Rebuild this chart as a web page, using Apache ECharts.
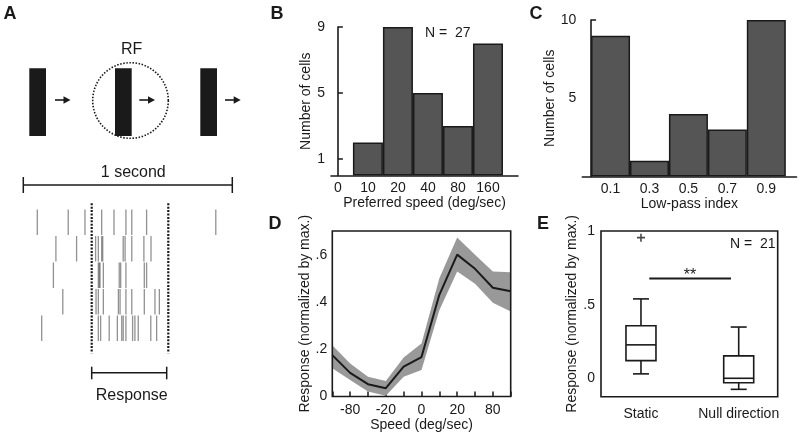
<!DOCTYPE html>
<html><head><meta charset="utf-8">
<script src="https://cdn.jsdelivr.net/npm/echarts@6/dist/echarts.min.js"></script>
<style>html,body{margin:0;padding:0;background:#fff}#c{width:800px;height:436px}</style>
</head><body><div id="c"></div>
<script>
const FONT = '"Liberation Sans", Arial, sans-serif';
const INK = '#1a1a1a';

// ---- Panel A: spike raster (ms from start of 1-second sweep), one array per trial
const rasterTrial1 = [67, 215, 295, 375, 434, 491, 519, 590, 921];
const rasterTrial2 = [156, 255, 346, 359, 375, 380, 478, 487, 519, 577, 611];
const rasterTrial3 = [144, 359, 364, 367, 383, 459, 466, 491, 579, 590];
const rasterTrial4 = [189, 348, 359, 383, 455, 463, 491, 519, 579, 630, 651];
const rasterTrial5 = [88, 359, 370, 411, 450, 471, 478, 491, 523, 534, 550, 610, 638];

// ---- Panel B: preferred speed histogram
const bCategories = ['0', '10', '20', '40', '80', '160'];
const bCounts = [0, 2, 9, 5, 3, 8];
const bYTicks = [1, 5, 9];

// ---- Panel C: low-pass index histogram
const cBins = [0.1, 0.3, 0.5, 0.7, 0.9];
const cCounts = [9, 1, 4, 3, 10];
const cYTicks = [5, 10];

// ---- Panel D: speed tuning (mean +/- band)
const dSpeeds = ['-160', '-80', '-40', '-20', '-10', '0', '10', '20', '40', '80', '160'];
const dLabeled = ['-80', '-20', '0', '20', '80'];
const dMean  = [0.175, 0.100, 0.052, 0.035, 0.126, 0.167, 0.430, 0.600, 0.540, 0.460, 0.445];
const dUpper = [0.217, 0.140, 0.084, 0.066, 0.165, 0.224, 0.500, 0.673, 0.600, 0.529, 0.526];
const dLower = [0.120, 0.070, 0.021, 0.003, 0.084, 0.112, 0.365, 0.529, 0.477, 0.396, 0.360];
const dYTicks = [0, 0.2, 0.4, 0.6];

// ---- Panel E: box plots
const eGroups = ['Static', 'Null direction'];
const eMin    = [0.030, -0.075];
const eQ1     = [0.120, -0.030];
const eMedian = [0.227, 0.000];
const eQ3     = [0.357, 0.152];
const eMax    = [0.539, 0.348];
const eOutlierGroup = [0];
const eOutlierValue = [0.955];
const eYTicks = [0, 0.5, 1];
const eSigFrom = 1.085, eSigTo = 1.921, eSigY = 0.677;

const fmtFrac = v => v === 0 ? '0' : (Number.isInteger(v) ? String(v) : String(v).replace(/^0/, ''));

const axisTxt = { color: INK, fontSize: 14, fontFamily: FONT };
const nameTxt = { color: INK, fontSize: 14, fontFamily: FONT };

const rasterTrials = [rasterTrial1, rasterTrial2, rasterTrial3, rasterTrial4, rasterTrial5];
const rasterData = [];
rasterTrials.forEach((arr, i) => arr.forEach(t => rasterData.push([t, i + 1])));

const chart = echarts.init(document.getElementById('c'), null, { renderer: 'canvas' });

function boxRender(params, api) {
  const x = api.value(0);
  const pLo = api.coord([x, api.value(1)]);
  const pQ1 = api.coord([x, api.value(2)]);
  const pMed = api.coord([x, api.value(3)]);
  const pQ3 = api.coord([x, api.value(4)]);
  const pHi = api.coord([x, api.value(5)]);
  const hw = 15, cw = 8;
  const st = { stroke: INK, lineWidth: 1.6, fill: null };
  return {
    type: 'group',
    children: [
      { type: 'rect', shape: { x: pQ3[0] - hw, y: pQ3[1], width: 2 * hw, height: pQ1[1] - pQ3[1] }, style: { stroke: INK, lineWidth: 1.6, fill: '#fff' } },
      { type: 'line', shape: { x1: pMed[0] - hw, y1: pMed[1], x2: pMed[0] + hw, y2: pMed[1] }, style: st },
      { type: 'line', shape: { x1: pQ3[0], y1: pQ3[1], x2: pHi[0], y2: pHi[1] }, style: st },
      { type: 'line', shape: { x1: pQ1[0], y1: pQ1[1], x2: pLo[0], y2: pLo[1] }, style: st },
      { type: 'line', shape: { x1: pHi[0] - cw, y1: pHi[1], x2: pHi[0] + cw, y2: pHi[1] }, style: st },
      { type: 'line', shape: { x1: pLo[0] - cw, y1: pLo[1], x2: pLo[0] + cw, y2: pLo[1] }, style: st }
    ]
  };
}

const letter = (t, x, y) => ({ type: 'text', x, y, style: { text: t, fontSize: 18, fontWeight: 'bold', fontFamily: FONT, fill: INK, align: 'center', verticalAlign: 'middle' } });
const label = (t, x, y, size) => ({ type: 'text', x, y, style: { text: t, fontSize: size || 16, fontFamily: FONT, fill: INK, align: 'center', verticalAlign: 'middle' } });
const seg = (x1, y1, x2, y2, w, dash) => ({ type: 'line', shape: { x1, y1, x2, y2 }, style: { stroke: INK, lineWidth: w || 1.5, lineDash: dash || null } });
const arrow = (x1, x2, y) => ({ type: 'group', children: [
  seg(x1, y, x2 - 5, y, 1.6),
  { type: 'polygon', shape: { points: [[x2 - 7, y - 3.8], [x2, y], [x2 - 7, y + 3.8]] }, style: { fill: INK } }
] });

const graphics = [
  letter('A', 10, 14), letter('B', 277, 14), letter('C', 536, 14), letter('D', 275, 224), letter('E', 543, 224),
  { type: 'circle', shape: { cx: 130.5, cy: 100.5, r: 37.8 }, style: { stroke: INK, lineWidth: 1.6, fill: null, lineDash: [1.5, 1.6] } },
  { type: 'rect', shape: { x: 29.3, y: 68.3, width: 16.7, height: 67.7 }, style: { fill: INK } },
  { type: 'rect', shape: { x: 115, y: 68.3, width: 16.7, height: 67.7 }, style: { fill: INK } },
  { type: 'rect', shape: { x: 200.3, y: 68.3, width: 16.7, height: 67.7 }, style: { fill: INK } },
  arrow(55, 70.5, 100), arrow(139.3, 155, 100), arrow(225, 240.7, 100),
  label('RF', 131.7, 50),
  seg(23.3, 185, 232.3, 185, 1.5), seg(23.3, 177, 23.3, 193, 1.5), seg(232.3, 177, 232.3, 193, 1.5),
  label('1 second', 133.3, 173),
  seg(91.7, 203.3, 91.7, 353.3, 2.2, [2, 1.4]), seg(168.3, 203.3, 168.3, 353.3, 2.2, [2, 1.4]),
  seg(91.7, 372.7, 166.7, 372.7, 1.5), seg(91.7, 366.7, 91.7, 379.3, 1.5), seg(166.7, 366.7, 166.7, 379.3, 1.5),
  label('Response', 131.7, 395.5),
  { type: 'text', x: 425, y: 33.5, style: { text: 'N =  27', fontSize: 14, fontFamily: FONT, fill: INK, align: 'left', verticalAlign: 'middle' } },
  { type: 'text', x: 730, y: 244.5, style: { text: 'N =  21', fontSize: 14, fontFamily: FONT, fill: INK, align: 'left', verticalAlign: 'middle' } },
  { type: 'text', x: 690, y: 276, style: { text: '**', fontSize: 16, fontFamily: FONT, fill: INK, align: 'center', verticalAlign: 'middle' } }
];

const option = {
  animation: false,
  backgroundColor: '#fff',
  textStyle: { fontFamily: FONT },
  graphic: graphics,
  grid: [
    { left: 23.3, top: 209, width: 209, height: 132.5 },
    { left: 331, top: 27, width: 187, height: 148.5 },
    { left: 582.3, top: 20, width: 214.2, height: 156.5 },
    { left: 332.3, top: 231, width: 178.4, height: 165.5, show: true, z: 10, borderColor: INK, borderWidth: 1.6, backgroundColor: 'transparent' },
    { left: 601, top: 231, width: 176.7, height: 165.7, show: true, z: 10, borderColor: INK, borderWidth: 1.6, backgroundColor: 'transparent' }
  ],
  xAxis: [
    { gridIndex: 0, type: 'value', min: 0, max: 1000, show: false },
    { gridIndex: 1, type: 'value', min: -0.23, max: 6,
      axisLine: { show: true, lineStyle: { color: INK, width: 1.6 } }, axisTick: { show: false }, splitLine: { show: false },
      axisLabel: { ...axisTxt, margin: 6, customValues: [0, 1, 2, 3, 4, 5], formatter: v => bCategories[Math.round(v)] },
      name: 'Preferred speed (deg/sec)', nameLocation: 'middle', nameGap: 19, nameTextStyle: nameTxt },
    { gridIndex: 2, type: 'value', min: -0.045, max: 1.055,
      axisLine: { show: true, lineStyle: { color: INK, width: 1.6 } }, axisTick: { show: false }, splitLine: { show: false },
      axisLabel: { ...axisTxt, margin: 6, customValues: cBins, formatter: v => v.toFixed(1) },
      name: 'Low-pass index', nameLocation: 'middle', nameGap: 19, nameTextStyle: nameTxt },
    { gridIndex: 3, type: 'category', data: dSpeeds, boundaryGap: false,
      axisLine: { show: false }, splitLine: { show: false },
      axisTick: { show: true, inside: true, length: 5, interval: 0, lineStyle: { color: INK, width: 1.5 } },
      axisLabel: { ...axisTxt, margin: 7, interval: (i, v) => dLabeled.includes(v) },
      name: 'Speed (deg/sec)', nameLocation: 'middle', nameGap: 21, nameTextStyle: nameTxt },
    { gridIndex: 4, type: 'value', min: 0.591, max: 2.399,
      axisLine: { show: false }, axisTick: { show: false }, splitLine: { show: false },
      axisLabel: { ...axisTxt, margin: 10, customValues: [1, 2], formatter: v => eGroups[Math.round(v) - 1] } }
  ],
  yAxis: [
    { gridIndex: 0, type: 'value', min: 0.5, max: 5.5, inverse: true, show: false },
    { gridIndex: 1, type: 'value', min: 0, max: 9,
      axisLine: { show: true, lineStyle: { color: INK, width: 1.6 } }, splitLine: { show: false },
      axisTick: { show: true, inside: true, length: 5, customValues: bYTicks, lineStyle: { color: INK, width: 1.5 } },
      axisLabel: { ...axisTxt, margin: 6, customValues: bYTicks },
      name: 'Number of cells', nameLocation: 'middle', nameGap: 17, nameTextStyle: nameTxt },
    { gridIndex: 2, type: 'value', min: 0, max: 10,
      axisLine: { show: true, lineStyle: { color: INK, width: 1.6 } }, splitLine: { show: false },
      axisTick: { show: true, inside: true, length: 5, customValues: cYTicks, lineStyle: { color: INK, width: 1.5 } },
      axisLabel: { ...axisTxt, margin: 6, customValues: cYTicks },
      name: 'Number of cells', nameLocation: 'middle', nameGap: 19, nameTextStyle: nameTxt },
    { gridIndex: 3, type: 'value', min: 0, max: 0.7,
      axisLine: { show: false }, splitLine: { show: false }, axisTick: { show: false },
      axisLabel: { ...axisTxt, margin: 5, customValues: dYTicks, formatter: fmtFrac },
      name: 'Response (normalized by max.)', nameLocation: 'middle', nameGap: 18, nameTextStyle: nameTxt },
    { gridIndex: 4, type: 'value', min: -0.125, max: 1,
      axisLine: { show: false }, splitLine: { show: false }, axisTick: { show: false },
      axisLabel: { ...axisTxt, margin: 6, customValues: eYTicks, formatter: fmtFrac },
      name: 'Response (normalized by max.)', nameLocation: 'middle', nameGap: 19, nameTextStyle: nameTxt }
  ],
  series: [
    { type: 'scatter', xAxisIndex: 0, yAxisIndex: 0, data: rasterData, symbol: 'rect', symbolSize: [1.3, 25.5],
      itemStyle: { color: 'rgba(85,85,85,0.8)' } },
    { type: 'bar', xAxisIndex: 1, yAxisIndex: 1, barWidth: 30,
      data: bCounts.map((c, i) => [i, c > 0 ? c : null]),
      itemStyle: { color: '#555555', borderColor: INK, borderWidth: 1.5 } },
    { type: 'bar', xAxisIndex: 2, yAxisIndex: 2, barWidth: 39,
      data: cBins.map((b, i) => [b, cCounts[i]]),
      itemStyle: { color: '#555555', borderColor: INK, borderWidth: 1.5 } },
    { type: 'line', xAxisIndex: 3, yAxisIndex: 3, stack: 'band', data: dLower, symbol: 'none',
      lineStyle: { opacity: 0 } },
    { type: 'line', xAxisIndex: 3, yAxisIndex: 3, stack: 'band', data: dUpper.map((u, i) => +(u - dLower[i]).toFixed(4)), symbol: 'none',
      lineStyle: { opacity: 0 }, areaStyle: { color: '#999999', opacity: 1 } },
    { type: 'line', xAxisIndex: 3, yAxisIndex: 3, data: dMean, symbol: 'none', z: 5,
      lineStyle: { color: INK, width: 2 } },
    { type: 'custom', xAxisIndex: 4, yAxisIndex: 4, renderItem: boxRender,
      encode: { x: 0, y: [1, 2, 3, 4, 5] },
      data: eGroups.map((g, i) => [i + 1, eMin[i], eQ1[i], eMedian[i], eQ3[i], eMax[i]]) },
    { type: 'scatter', xAxisIndex: 4, yAxisIndex: 4, symbol: 'path://M-0.6,-3H0.6V-0.6H3V0.6H0.6V3H-0.6V0.6H-3V-0.6H-0.6Z', symbolSize: 8,
      itemStyle: { color: INK }, data: eOutlierGroup.map((g, i) => [g + 1, eOutlierValue[i]]) },
    { type: 'line', xAxisIndex: 4, yAxisIndex: 4, symbol: 'none', lineStyle: { color: INK, width: 2 },
      data: [[eSigFrom, eSigY], [eSigTo, eSigY]] }
  ]
};
chart.setOption(option);
</script>
</body></html>
